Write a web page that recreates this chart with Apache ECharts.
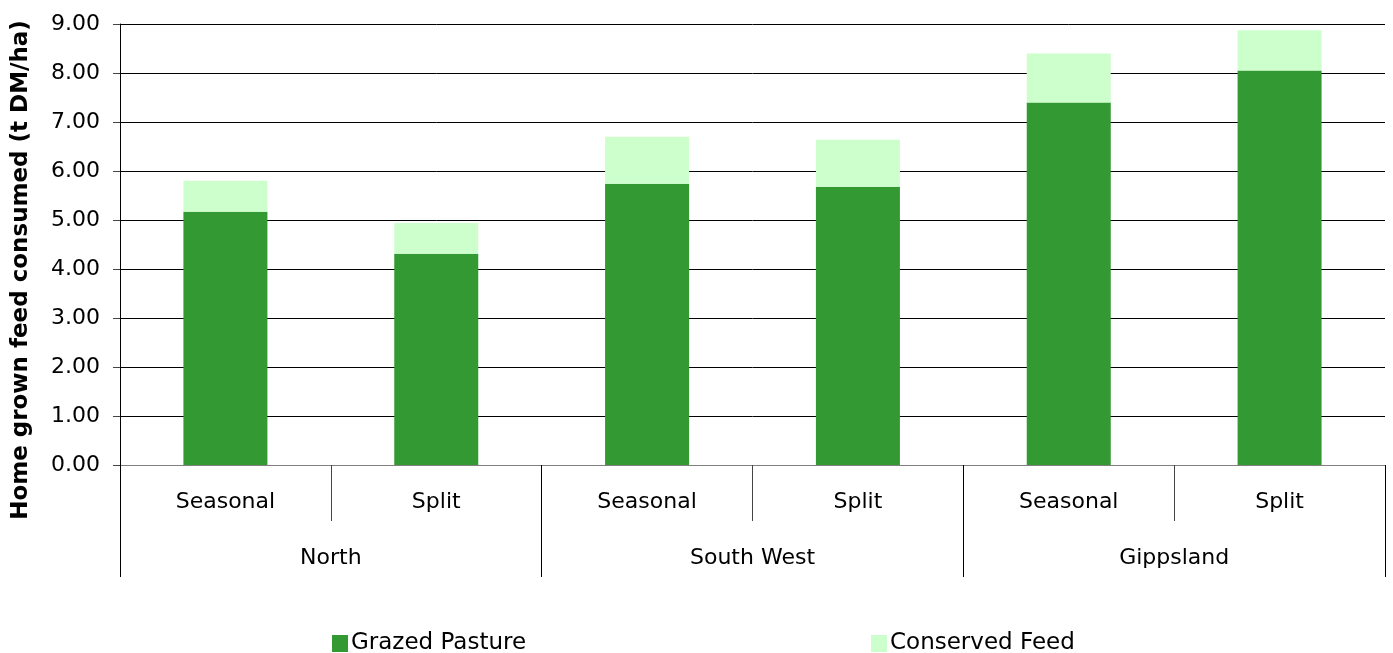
<!DOCTYPE html>
<html>
<head>
<meta charset="utf-8">
<script src="https://cdn.jsdelivr.net/npm/echarts@6/dist/echarts.min.js"></script>
<style>
  html, body { margin: 0; padding: 0; background: #fff; }
  #chart { width: 1393px; height: 653px; }
</style>
</head>
<body>
<div id="chart"></div>
<script>
// 分类与数值
var subTypes = ['Seasonal', 'Split', 'Seasonal', 'Split', 'Seasonal', 'Split'];
var regions = ['North', 'South West', 'Gippsland'];
var grazedPasture = [5.17, 4.31, 5.74, 5.68, 7.40, 8.05];
var conservedFeed = [0.63, 0.63, 0.96, 0.96, 1.00, 0.82];

var font = 'DejaVu Sans';
var chart = echarts.init(document.getElementById('chart'));

var option = {
  animation: false,
  textStyle: { fontFamily: font },
  grid: { left: 120, right: 8, top: 24, height: 441 },
  legend: [{
    data: ['Grazed Pasture'],
    left: 327, top: 627,
    itemWidth: 16, itemHeight: 17, itemGap: 7,
    icon: 'rect',
    textStyle: { fontSize: 23, color: '#000', fontFamily: font, padding: [0, 0, 0, -2] }
  }, {
    data: ['Conserved Feed'],
    left: 866, top: 627,
    itemWidth: 16, itemHeight: 17, itemGap: 7,
    icon: 'rect',
    textStyle: { fontSize: 23, color: '#000', fontFamily: font, padding: [0, 0, 0, -2] }
  }],
  graphic: [{
    type: 'text',
    x: 21, y: 270,
    rotation: Math.PI / 2,
    style: {
      text: 'Home grown feed consumed (t DM/ha)',
      fontFamily: font,
      fontWeight: 'bold',
      fontSize: 23,
      fill: '#000',
      align: 'center',
      verticalAlign: 'middle'
    }
  }],
  xAxis: [{
    type: 'category',
    data: subTypes,
    position: 'bottom',
    axisLine: { lineStyle: { color: '#808080', width: 1 } },
    axisTick: { show: true, interval: 0, length: 56, lineStyle: { color: '#444' } },
    axisLabel: { interval: 0, margin: 26, fontSize: 22, color: '#000', fontFamily: font }
  }, {
    type: 'category',
    data: regions,
    position: 'bottom',
    gridIndex: 0,
    axisLine: { show: false },
    axisTick: { show: true, interval: 0, length: 112, lineStyle: { color: '#000' } },
    axisLabel: { interval: 0, margin: 82, fontSize: 22, color: '#000', fontFamily: font }
  }],
  yAxis: {
    type: 'value',
    min: 0, max: 9, interval: 1,
    axisLine: { show: true, lineStyle: { color: '#000' } },
    axisTick: { show: true, length: 7, lineStyle: { color: '#444' } },
    splitLine: { lineStyle: { color: '#000', width: 1 } },
    axisLabel: {
      margin: 20, fontSize: 22, color: '#000', fontFamily: font,
      formatter: function (v) { return v.toFixed(2); }
    }
  },
  series: [{
    name: 'Grazed Pasture',
    type: 'bar',
    stack: 'feed',
    xAxisIndex: 0,
    barWidth: 84,
    itemStyle: { color: '#339933' },
    data: grazedPasture
  }, {
    name: 'Conserved Feed',
    type: 'bar',
    stack: 'feed',
    xAxisIndex: 0,
    barWidth: 84,
    itemStyle: { color: '#CCFFCC' },
    data: conservedFeed
  }]
};

chart.setOption(option);
window.addEventListener('resize', function () { chart.resize(); });
</script>
</body>
</html>
